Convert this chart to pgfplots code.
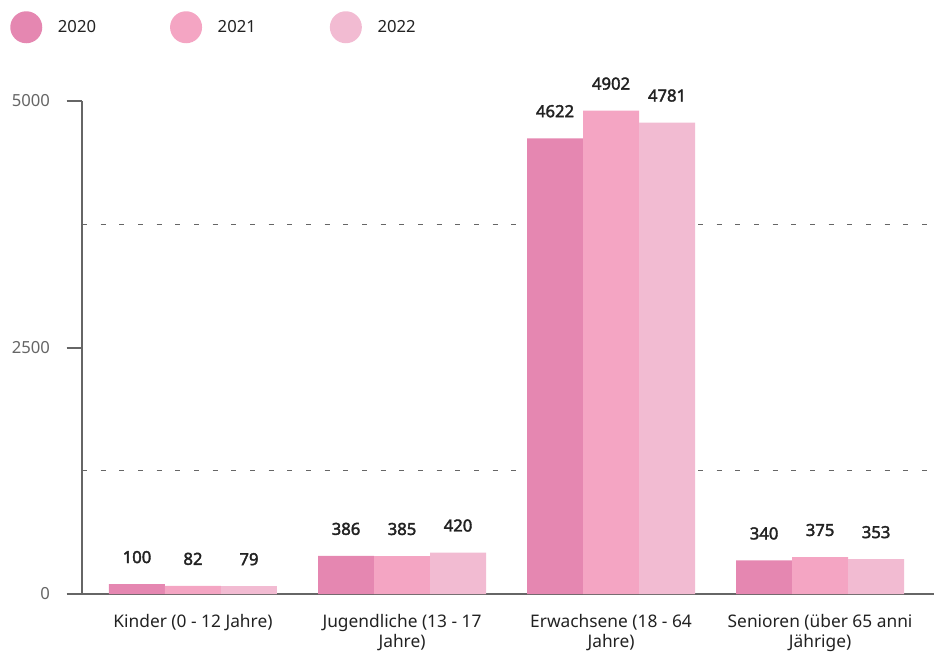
\documentclass[border=0pt]{standalone}
\usepackage{fontspec}
\setmainfont{Noto Sans}
\newfontfamily\lblfont{Noto Sans}[FakeBold=2.2]
\usepackage{pgfplots}
\pgfplotsset{compat=1.18}
\definecolor{cA}{HTML}{E587B1}
\definecolor{cB}{HTML}{F4A5C3}
\definecolor{cC}{HTML}{F2BBD2}
\definecolor{axgrey}{HTML}{666666}
\definecolor{txt}{HTML}{222222}
\begin{document}
\begin{tikzpicture}
\path[use as bounding box] (-61.5pt,-42.75pt) rectangle (639pt,445.5pt);
\begin{axis}[
  at={(0pt,0pt)}, anchor=south west,
  scale only axis,
  width=639pt, height=369.75pt,
  xmin=-0.531, xmax=3.545,
  ymin=0, ymax=5000,
  clip=false,
  ybar=0pt, bar width=42pt,
  axis x line*=bottom, axis y line*=left,
  axis line style={axgrey, line width=1.5pt},
  /pgf/number format/assume math mode=true,
  /pgf/number format/1000 sep={},
  xtick={0,1,2,3},
  xticklabels={{Kinder (0 - 12 Jahre)},{Jugendliche (13 - 17\\Jahre)},{Erwachsene (18 - 64\\Jahre)},{Senioren (über 65 anni\\Jährige)}},
  x tick label style={align=center, font=\fontsize{13}{15.5}\selectfont, text=txt, anchor=north, yshift=0pt},
  major x tick style={draw=none},
  ytick={0,2500,5000},
  yticklabels={0,2500,5000},
  y tick label style={font=\fontsize{12.5}{15}\selectfont, text=axgrey, xshift=-9pt},
  major y tick style={axgrey, line width=1.5pt},
  tick align=outside,
  major tick length=11.5pt,
  minor ytick={1250,3750},
  minor tick length=0pt,
  yminorgrids=true,
  minor grid style={axgrey, line width=0.8pt, dash pattern=on 3.75pt off 10.25pt},
  nodes near coords,
  nodes near coords style={font=\lblfont\fontsize{12.5}{15}\selectfont, text=txt, anchor=south, inner sep=0pt, yshift=15.5pt},
  legend columns=3,
  legend style={draw=none, fill=none, inner sep=0pt, at={(-0.0845,1.1826)}, anchor=north west,
    font=\fontsize{12.5}{15}\selectfont, text=txt,
    /tikz/every odd column/.append style={column sep=9.75pt},
    /tikz/every even column/.append style={column sep=53.5pt}},
  legend image code/.code={\fill[#1] (12pt,0pt) circle (12pt);},
]
\addplot[fill=cA, draw=none] coordinates {(0,100) (1,386) (2,4622) (3,340)};
\addplot[fill=cB, draw=none] coordinates {(0,82) (1,385) (2,4902) (3,375)};
\addplot[fill=cC, draw=none] coordinates {(0,79) (1,420) (2,4781) (3,353)};
\legend{2020,2021,2022}
\end{axis}
\end{tikzpicture}
\end{document}
